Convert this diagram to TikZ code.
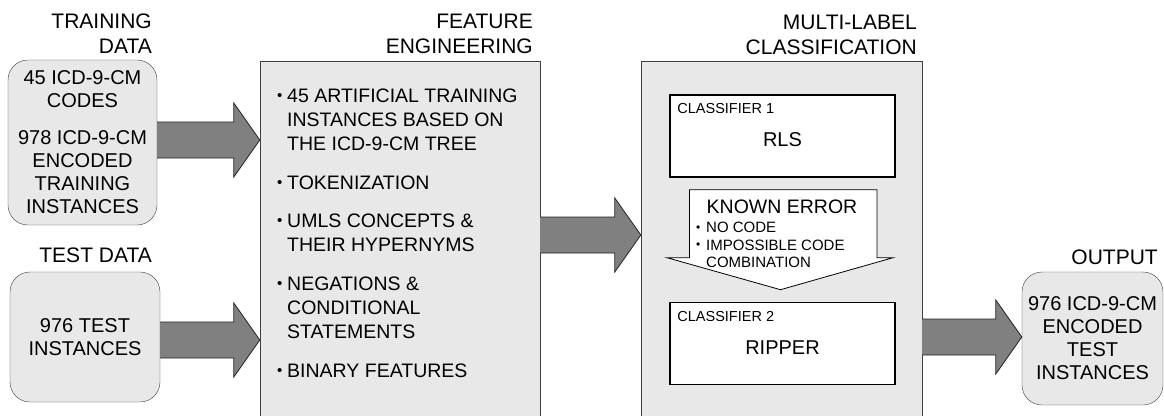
\documentclass[tikz,border=0pt]{standalone}
\usepackage{fontspec}
\setmainfont{Liberation Sans}
\usetikzlibrary{calc}
\definecolor{boxgray}{HTML}{E8E8E8}
\definecolor{edgegray}{HTML}{404040}
\definecolor{arrowgray}{HTML}{808080}
\definecolor{arrowedge}{HTML}{222222}
\newcommand{\bul}{\makebox[10pt][l]{\fontsize{15}{15}\selectfont\raisebox{2pt}{•}}}
\newcommand{\ind}{\hspace*{10pt}}
\newcommand{\sbul}{\makebox[10pt][l]{\fontsize{12}{12}\selectfont\raisebox{1.5pt}{•}}}
\newcommand{\sind}{\hspace*{10pt}}
\newcommand{\fatarrow}[3]{%
  \filldraw[fatarrow] let \p1=(#1.east), \p2=(#2.west) in
    (\x1,-#3pt+18pt) -- (\x2-26pt,-#3pt+18pt) -- (\x2-26pt,-#3pt+37pt) -- (\x2,-#3pt)
    -- (\x2-26pt,-#3pt-37pt) -- (\x2-26pt,-#3pt-18pt) -- (\x1,-#3pt-18pt);}
\tikzset{
  databox/.style={draw=edgegray, fill=boxgray, rounded corners=20pt, align=center,
    inner sep=0pt, font=\fontsize{20}{23}\selectfont},
  stagebox/.style={draw=edgegray, fill=boxgray, inner sep=0pt, minimum width=280pt,
    minimum height=380pt},
  clsbox/.style={draw=black, line width=1.6pt, fill=white, minimum width=225pt,
    minimum height=82pt, inner sep=0pt, text height=21.5pt, text depth=0pt,
    font=\fontsize{20}{23}\selectfont},
  lab/.style={anchor=north west, inner sep=0pt, xshift=8pt, yshift=-9pt,
    font=\fontsize{14.5}{17}\selectfont},
  title/.style={anchor=north east, inner sep=0pt, align=right,
    font=\fontsize{21}{25}\selectfont},
  list/.style={anchor=north west, inner sep=0pt, align=left,
    font=\fontsize{19.5}{24}\selectfont},
  fatarrow/.style={fill=arrowgray, draw=arrowedge, line width=0.8pt, line join=miter},
  errarrow/.style={fill=white, draw=black, line width=0.8pt, line join=miter}
}
\begin{document}
\begin{tikzpicture}[x=1pt, y=-1pt]
    \useasboundingbox (0,0) rectangle (1164,415);
    \clip (0,0) rectangle (1164,415);
    \node[databox, minimum width=149pt, minimum height=165pt] (train) at (82.5,142.5)
        {45 ICD-9-CM\\CODES\\[14pt]978 ICD-9-CM\\ENCODED\\TRAINING\\INSTANCES};
    \node[databox, minimum width=150pt, minimum height=130pt] (test) at (85,337)
        {976 TEST\\INSTANCES};
    \node[stagebox] (feat) at (400,251) {};
    \node[stagebox, minimum width=281pt] (cls) at (781.5,251) {};
    \node[databox, minimum width=141pt, minimum height=133pt] (out) at (1092.5,338.5)
        {976 ICD-9-CM\\ENCODED\\TEST\\INSTANCES};
    \node[title] (traintitle) at (152,14) {TRAINING\\DATA};
    \node[title] (testtitle) at (152,248) {TEST DATA};
    \node[title] (feattitle) at (533,14) {FEATURE\\ENGINEERING};
    \node[title] (clstitle) at (917,15) {MULTI-LABEL\\CLASSIFICATION};
    \node[title] (outtitle) at (1158,250) {OUTPUT};
    \node[list] (featlist) at (277,89) {\bul 45 ARTIFICIAL TRAINING\\\ind INSTANCES BASED ON\\
        \ind THE ICD-9-CM TREE\\[14.5pt]\bul TOKENIZATION\\[14.5pt]\bul UMLS CONCEPTS \&\\
        \ind THEIR HYPERNYMS\\[15pt]\bul NEGATIONS \&\\\ind CONDITIONAL\\\ind STATEMENTS\\[15pt]
        \bul BINARY FEATURES};
    \node[clsbox, label={[lab]north west:CLASSIFIER 1}] (c1) at (782.5,136) {RLS};
    \node[clsbox, label={[lab]north west:CLASSIFIER 2}] (c2) at (782.5,343.5) {RIPPER};
    \filldraw[errarrow] let \p1=(c1.south), \p2=(c2.north) in
        (\x1-93pt,\y1-12pt) -- (\x1+94.5pt,\y1-12pt) -- (\x1+94.5pt,\y2+44pt)
        -- (\x1+110.5pt,\y2+44pt) -- (\x2-2pt,\y2+12pt) -- (\x1-115.5pt,\y2+44pt)
        -- (\x1-93pt,\y2+44pt) -- cycle;
    \node[font=\fontsize{19.5}{23}\selectfont, inner sep=0pt] (errtitle) at (782,206.5) {KNOWN ERROR};
    \node[anchor=north west, inner sep=0pt, align=left, font=\fontsize{15}{17.5}\selectfont]
        (errlist) at (696,222) {\sbul NO CODE\\\sbul IMPOSSIBLE CODE\\\sind COMBINATION};
    \fatarrow{train}{feat}{140}
    \fatarrow{test}{feat}{340}
    \fatarrow{feat}{cls}{235}
    \fatarrow{cls}{out}{337}
\end{tikzpicture}
\end{document}
